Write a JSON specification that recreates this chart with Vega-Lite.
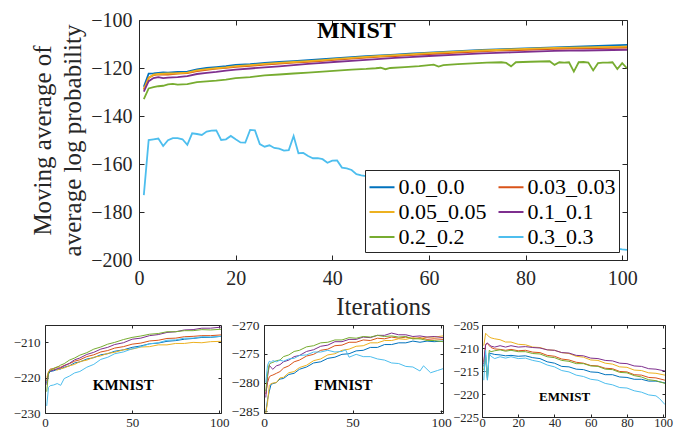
{
"$schema":"https://vega.github.io/schema/vega-lite/v6.json",
"background":"white",
"padding":{"left":11,"top":9,"right":0,"bottom":0},
"config":{"font":"Liberation Serif","view":{"stroke":"#262626","strokeWidth":1},
"axis":{"grid":false,"domain":false,"tickColor":"#262626","labelColor":"#262626","titleColor":"#262626","labelFont":"Liberation Serif","titleFont":"Liberation Serif","titleFontWeight":"normal","tickWidth":1,"labelOverlap":false,"labelFlush":false},
"text":{"font":"Liberation Serif","fontWeight":"bold","color":"black","align":"center","baseline":"middle"}},
"datasets":{
"M":[
{"s":"0.0_0.0","x":1,"y":-127.8},{"s":"0.0_0.0","x":2,"y":-122.3},{"s":"0.0_0.0","x":3,"y":-122.2},{"s":"0.0_0.0","x":4,"y":-122.0},{"s":"0.0_0.0","x":5,"y":-121.8},{"s":"0.0_0.0","x":6,"y":-121.9},{"s":"0.0_0.0","x":8,"y":-121.6},{"s":"0.0_0.0","x":10,"y":-121.5},{"s":"0.0_0.0","x":12,"y":-120.6},{"s":"0.0_0.0","x":14,"y":-120.0},{"s":"0.0_0.0","x":16,"y":-119.6},{"s":"0.0_0.0","x":18,"y":-119.2},{"s":"0.0_0.0","x":20,"y":-118.7},{"s":"0.0_0.0","x":23,"y":-118.4},{"s":"0.0_0.0","x":26,"y":-117.9},{"s":"0.0_0.0","x":29,"y":-117.5},{"s":"0.0_0.0","x":32,"y":-117.1},{"s":"0.0_0.0","x":35,"y":-116.7},{"s":"0.0_0.0","x":38,"y":-116.3},{"s":"0.0_0.0","x":41,"y":-115.9},{"s":"0.0_0.0","x":44,"y":-115.5},{"s":"0.0_0.0","x":47,"y":-115.1},{"s":"0.0_0.0","x":50,"y":-114.7},{"s":"0.0_0.0","x":53,"y":-114.4},{"s":"0.0_0.0","x":56,"y":-114.0},{"s":"0.0_0.0","x":59,"y":-113.7},{"s":"0.0_0.0","x":62,"y":-113.4},{"s":"0.0_0.0","x":65,"y":-113.1},{"s":"0.0_0.0","x":68,"y":-112.8},{"s":"0.0_0.0","x":71,"y":-112.5},{"s":"0.0_0.0","x":74,"y":-112.3},{"s":"0.0_0.0","x":77,"y":-112.0},{"s":"0.0_0.0","x":80,"y":-111.8},{"s":"0.0_0.0","x":83,"y":-111.6},{"s":"0.0_0.0","x":86,"y":-111.4},{"s":"0.0_0.0","x":89,"y":-111.2},{"s":"0.0_0.0","x":92,"y":-111.0},{"s":"0.0_0.0","x":95,"y":-110.8},{"s":"0.0_0.0","x":98,"y":-110.6},{"s":"0.0_0.0","x":101,"y":-110.4},
{"s":"0.03_0.03","x":1,"y":-128.9},{"s":"0.03_0.03","x":2,"y":-124.0},{"s":"0.03_0.03","x":3,"y":-123.0},{"s":"0.03_0.03","x":4,"y":-122.7},{"s":"0.03_0.03","x":5,"y":-122.6},{"s":"0.03_0.03","x":6,"y":-122.7},{"s":"0.03_0.03","x":8,"y":-122.3},{"s":"0.03_0.03","x":10,"y":-122.1},{"s":"0.03_0.03","x":12,"y":-121.3},{"s":"0.03_0.03","x":14,"y":-120.8},{"s":"0.03_0.03","x":16,"y":-120.3},{"s":"0.03_0.03","x":18,"y":-119.9},{"s":"0.03_0.03","x":20,"y":-119.5},{"s":"0.03_0.03","x":23,"y":-119.1},{"s":"0.03_0.03","x":26,"y":-118.6},{"s":"0.03_0.03","x":29,"y":-118.2},{"s":"0.03_0.03","x":32,"y":-117.8},{"s":"0.03_0.03","x":35,"y":-117.4},{"s":"0.03_0.03","x":38,"y":-117.0},{"s":"0.03_0.03","x":41,"y":-116.5},{"s":"0.03_0.03","x":44,"y":-116.1},{"s":"0.03_0.03","x":47,"y":-115.7},{"s":"0.03_0.03","x":50,"y":-115.3},{"s":"0.03_0.03","x":53,"y":-115.0},{"s":"0.03_0.03","x":56,"y":-114.6},{"s":"0.03_0.03","x":59,"y":-114.3},{"s":"0.03_0.03","x":62,"y":-114.0},{"s":"0.03_0.03","x":65,"y":-113.7},{"s":"0.03_0.03","x":68,"y":-113.4},{"s":"0.03_0.03","x":71,"y":-113.1},{"s":"0.03_0.03","x":74,"y":-112.8},{"s":"0.03_0.03","x":77,"y":-112.6},{"s":"0.03_0.03","x":80,"y":-112.4},{"s":"0.03_0.03","x":83,"y":-112.2},{"s":"0.03_0.03","x":86,"y":-112.0},{"s":"0.03_0.03","x":89,"y":-111.9},{"s":"0.03_0.03","x":92,"y":-111.8},{"s":"0.03_0.03","x":95,"y":-111.7},{"s":"0.03_0.03","x":98,"y":-111.6},{"s":"0.03_0.03","x":101,"y":-111.5},
{"s":"0.05_0.05","x":1,"y":-129.0},{"s":"0.05_0.05","x":2,"y":-124.2},{"s":"0.05_0.05","x":3,"y":-122.8},{"s":"0.05_0.05","x":4,"y":-122.5},{"s":"0.05_0.05","x":5,"y":-122.4},{"s":"0.05_0.05","x":6,"y":-122.3},{"s":"0.05_0.05","x":8,"y":-122.2},{"s":"0.05_0.05","x":10,"y":-121.9},{"s":"0.05_0.05","x":12,"y":-121.0},{"s":"0.05_0.05","x":14,"y":-120.5},{"s":"0.05_0.05","x":16,"y":-120.1},{"s":"0.05_0.05","x":18,"y":-119.7},{"s":"0.05_0.05","x":20,"y":-119.2},{"s":"0.05_0.05","x":23,"y":-118.8},{"s":"0.05_0.05","x":26,"y":-118.3},{"s":"0.05_0.05","x":29,"y":-117.9},{"s":"0.05_0.05","x":32,"y":-117.5},{"s":"0.05_0.05","x":35,"y":-117.1},{"s":"0.05_0.05","x":38,"y":-116.7},{"s":"0.05_0.05","x":41,"y":-116.2},{"s":"0.05_0.05","x":44,"y":-115.8},{"s":"0.05_0.05","x":47,"y":-115.4},{"s":"0.05_0.05","x":50,"y":-115.0},{"s":"0.05_0.05","x":53,"y":-114.6},{"s":"0.05_0.05","x":56,"y":-114.3},{"s":"0.05_0.05","x":59,"y":-113.9},{"s":"0.05_0.05","x":62,"y":-113.6},{"s":"0.05_0.05","x":65,"y":-113.3},{"s":"0.05_0.05","x":68,"y":-113.0},{"s":"0.05_0.05","x":71,"y":-112.7},{"s":"0.05_0.05","x":74,"y":-112.5},{"s":"0.05_0.05","x":77,"y":-112.2},{"s":"0.05_0.05","x":80,"y":-112.0},{"s":"0.05_0.05","x":83,"y":-111.8},{"s":"0.05_0.05","x":86,"y":-111.6},{"s":"0.05_0.05","x":89,"y":-111.5},{"s":"0.05_0.05","x":92,"y":-111.4},{"s":"0.05_0.05","x":95,"y":-111.3},{"s":"0.05_0.05","x":98,"y":-111.2},{"s":"0.05_0.05","x":101,"y":-111.1},
{"s":"0.1_0.1","x":1,"y":-129.8},{"s":"0.1_0.1","x":2,"y":-125.5},{"s":"0.1_0.1","x":3,"y":-124.2},{"s":"0.1_0.1","x":4,"y":-123.8},{"s":"0.1_0.1","x":5,"y":-124.2},{"s":"0.1_0.1","x":6,"y":-124.0},{"s":"0.1_0.1","x":8,"y":-123.8},{"s":"0.1_0.1","x":10,"y":-123.4},{"s":"0.1_0.1","x":12,"y":-122.5},{"s":"0.1_0.1","x":14,"y":-122.0},{"s":"0.1_0.1","x":16,"y":-121.6},{"s":"0.1_0.1","x":18,"y":-121.1},{"s":"0.1_0.1","x":20,"y":-120.7},{"s":"0.1_0.1","x":23,"y":-120.2},{"s":"0.1_0.1","x":26,"y":-119.7},{"s":"0.1_0.1","x":29,"y":-119.3},{"s":"0.1_0.1","x":32,"y":-118.8},{"s":"0.1_0.1","x":35,"y":-118.3},{"s":"0.1_0.1","x":38,"y":-117.9},{"s":"0.1_0.1","x":41,"y":-117.4},{"s":"0.1_0.1","x":44,"y":-117.0},{"s":"0.1_0.1","x":47,"y":-116.6},{"s":"0.1_0.1","x":50,"y":-116.2},{"s":"0.1_0.1","x":53,"y":-115.8},{"s":"0.1_0.1","x":56,"y":-115.5},{"s":"0.1_0.1","x":59,"y":-115.1},{"s":"0.1_0.1","x":62,"y":-114.8},{"s":"0.1_0.1","x":65,"y":-114.5},{"s":"0.1_0.1","x":68,"y":-114.2},{"s":"0.1_0.1","x":71,"y":-113.9},{"s":"0.1_0.1","x":74,"y":-113.7},{"s":"0.1_0.1","x":77,"y":-113.5},{"s":"0.1_0.1","x":80,"y":-113.3},{"s":"0.1_0.1","x":83,"y":-113.1},{"s":"0.1_0.1","x":86,"y":-112.9},{"s":"0.1_0.1","x":89,"y":-112.8},{"s":"0.1_0.1","x":92,"y":-112.7},{"s":"0.1_0.1","x":95,"y":-112.6},{"s":"0.1_0.1","x":98,"y":-112.5},{"s":"0.1_0.1","x":101,"y":-112.4},
{"s":"0.2_0.2","x":1,"y":-133.0},{"s":"0.2_0.2","x":2,"y":-128.5},{"s":"0.2_0.2","x":3,"y":-128.0},{"s":"0.2_0.2","x":4,"y":-127.6},{"s":"0.2_0.2","x":5,"y":-127.4},{"s":"0.2_0.2","x":6,"y":-126.8},{"s":"0.2_0.2","x":7,"y":-126.6},{"s":"0.2_0.2","x":8,"y":-126.9},{"s":"0.2_0.2","x":9,"y":-126.8},{"s":"0.2_0.2","x":10,"y":-126.7},{"s":"0.2_0.2","x":12,"y":-125.9},{"s":"0.2_0.2","x":14,"y":-125.6},{"s":"0.2_0.2","x":16,"y":-125.3},{"s":"0.2_0.2","x":18,"y":-124.8},{"s":"0.2_0.2","x":20,"y":-124.2},{"s":"0.2_0.2","x":23,"y":-123.8},{"s":"0.2_0.2","x":26,"y":-123.1},{"s":"0.2_0.2","x":29,"y":-122.7},{"s":"0.2_0.2","x":32,"y":-122.3},{"s":"0.2_0.2","x":35,"y":-121.9},{"s":"0.2_0.2","x":38,"y":-121.5},{"s":"0.2_0.2","x":41,"y":-121.1},{"s":"0.2_0.2","x":44,"y":-120.7},{"s":"0.2_0.2","x":47,"y":-120.4},{"s":"0.2_0.2","x":49,"y":-120.1},{"s":"0.2_0.2","x":50,"y":-119.9},{"s":"0.2_0.2","x":51,"y":-120.5},{"s":"0.2_0.2","x":52,"y":-120.0},{"s":"0.2_0.2","x":55,"y":-119.6},{"s":"0.2_0.2","x":58,"y":-119.2},{"s":"0.2_0.2","x":61,"y":-118.6},{"s":"0.2_0.2","x":62,"y":-119.4},{"s":"0.2_0.2","x":63,"y":-118.8},{"s":"0.2_0.2","x":66,"y":-118.4},{"s":"0.2_0.2","x":69,"y":-118.1},{"s":"0.2_0.2","x":72,"y":-117.8},{"s":"0.2_0.2","x":75,"y":-117.6},{"s":"0.2_0.2","x":76,"y":-117.9},{"s":"0.2_0.2","x":77,"y":-119.3},{"s":"0.2_0.2","x":78,"y":-117.6},{"s":"0.2_0.2","x":81,"y":-117.4},{"s":"0.2_0.2","x":85,"y":-117.2},{"s":"0.2_0.2","x":86,"y":-118.7},{"s":"0.2_0.2","x":87,"y":-117.6},{"s":"0.2_0.2","x":88,"y":-117.8},{"s":"0.2_0.2","x":89,"y":-117.6},{"s":"0.2_0.2","x":90,"y":-121.5},{"s":"0.2_0.2","x":91,"y":-117.6},{"s":"0.2_0.2","x":92,"y":-117.5},{"s":"0.2_0.2","x":93,"y":-117.7},{"s":"0.2_0.2","x":94,"y":-121.0},{"s":"0.2_0.2","x":95,"y":-118.0},{"s":"0.2_0.2","x":96,"y":-117.8},{"s":"0.2_0.2","x":97,"y":-117.8},{"s":"0.2_0.2","x":98,"y":-117.6},{"s":"0.2_0.2","x":99,"y":-120.4},{"s":"0.2_0.2","x":100,"y":-118.0},{"s":"0.2_0.2","x":101,"y":-120.1},
{"s":"0.3_0.3","x":1,"y":-173.0},{"s":"0.3_0.3","x":2,"y":-150.0},{"s":"0.3_0.3","x":3,"y":-149.7},{"s":"0.3_0.3","x":4,"y":-149.4},{"s":"0.3_0.3","x":5,"y":-152.5},{"s":"0.3_0.3","x":6,"y":-150.1},{"s":"0.3_0.3","x":7,"y":-149.2},{"s":"0.3_0.3","x":8,"y":-149.2},{"s":"0.3_0.3","x":9,"y":-149.7},{"s":"0.3_0.3","x":10,"y":-152.0},{"s":"0.3_0.3","x":11,"y":-147.2},{"s":"0.3_0.3","x":12,"y":-147.5},{"s":"0.3_0.3","x":13,"y":-147.9},{"s":"0.3_0.3","x":14,"y":-146.5},{"s":"0.3_0.3","x":15,"y":-146.1},{"s":"0.3_0.3","x":16,"y":-146.0},{"s":"0.3_0.3","x":17,"y":-150.0},{"s":"0.3_0.3","x":18,"y":-149.7},{"s":"0.3_0.3","x":19,"y":-148.3},{"s":"0.3_0.3","x":20,"y":-149.7},{"s":"0.3_0.3","x":21,"y":-151.0},{"s":"0.3_0.3","x":22,"y":-151.1},{"s":"0.3_0.3","x":23,"y":-145.8},{"s":"0.3_0.3","x":24,"y":-146.0},{"s":"0.3_0.3","x":25,"y":-151.7},{"s":"0.3_0.3","x":26,"y":-152.8},{"s":"0.3_0.3","x":27,"y":-152.2},{"s":"0.3_0.3","x":28,"y":-153.3},{"s":"0.3_0.3","x":29,"y":-153.6},{"s":"0.3_0.3","x":30,"y":-154.4},{"s":"0.3_0.3","x":31,"y":-154.2},{"s":"0.3_0.3","x":32,"y":-148.3},{"s":"0.3_0.3","x":33,"y":-155.5},{"s":"0.3_0.3","x":34,"y":-155.4},{"s":"0.3_0.3","x":35,"y":-156.7},{"s":"0.3_0.3","x":36,"y":-157.6},{"s":"0.3_0.3","x":37,"y":-157.6},{"s":"0.3_0.3","x":38,"y":-158.0},{"s":"0.3_0.3","x":39,"y":-159.5},{"s":"0.3_0.3","x":40,"y":-158.6},{"s":"0.3_0.3","x":41,"y":-158.5},{"s":"0.3_0.3","x":42,"y":-161.5},{"s":"0.3_0.3","x":43,"y":-161.8},{"s":"0.3_0.3","x":44,"y":-162.5},{"s":"0.3_0.3","x":45,"y":-164.2},{"s":"0.3_0.3","x":46,"y":-164.7},{"s":"0.3_0.3","x":47,"y":-165.1},{"s":"0.3_0.3","x":50,"y":-166.8},{"s":"0.3_0.3","x":55,"y":-169.6},{"s":"0.3_0.3","x":60,"y":-172.8},{"s":"0.3_0.3","x":65,"y":-175.6},{"s":"0.3_0.3","x":70,"y":-178.7},{"s":"0.3_0.3","x":75,"y":-181.5},{"s":"0.3_0.3","x":80,"y":-184.4},{"s":"0.3_0.3","x":85,"y":-187.3},{"s":"0.3_0.3","x":90,"y":-190.2},{"s":"0.3_0.3","x":95,"y":-193.0},{"s":"0.3_0.3","x":99,"y":-195.3},{"s":"0.3_0.3","x":100,"y":-195.6},{"s":"0.3_0.3","x":101,"y":-195.8}
],
"K":[
{"s":"0.0_0.0","x":1,"y":-221.5},{"s":"0.0_0.0","x":2,"y":-219.0},{"s":"0.0_0.0","x":3,"y":-218.3},{"s":"0.0_0.0","x":5,"y":-218.1},{"s":"0.0_0.0","x":7,"y":-217.7},{"s":"0.0_0.0","x":9,"y":-217.6},{"s":"0.0_0.0","x":11,"y":-217.1},{"s":"0.0_0.0","x":14,"y":-216.7},{"s":"0.0_0.0","x":17,"y":-215.9},{"s":"0.0_0.0","x":20,"y":-215.6},{"s":"0.0_0.0","x":24,"y":-214.8},{"s":"0.0_0.0","x":28,"y":-214.4},{"s":"0.0_0.0","x":32,"y":-213.6},{"s":"0.0_0.0","x":36,"y":-213.3},{"s":"0.0_0.0","x":40,"y":-212.6},{"s":"0.0_0.0","x":45,"y":-212.2},{"s":"0.0_0.0","x":50,"y":-211.5},{"s":"0.0_0.0","x":55,"y":-211.1},{"s":"0.0_0.0","x":60,"y":-210.5},{"s":"0.0_0.0","x":65,"y":-210.3},{"s":"0.0_0.0","x":70,"y":-209.8},{"s":"0.0_0.0","x":75,"y":-209.6},{"s":"0.0_0.0","x":80,"y":-209.2},{"s":"0.0_0.0","x":85,"y":-209.0},{"s":"0.0_0.0","x":90,"y":-208.7},{"s":"0.0_0.0","x":95,"y":-208.7},{"s":"0.0_0.0","x":101,"y":-208.4},
{"s":"0.03_0.03","x":1,"y":-221.0},{"s":"0.03_0.03","x":2,"y":-218.5},{"s":"0.03_0.03","x":3,"y":-217.6},{"s":"0.03_0.03","x":5,"y":-217.5},{"s":"0.03_0.03","x":7,"y":-217.0},{"s":"0.03_0.03","x":9,"y":-217.1},{"s":"0.03_0.03","x":11,"y":-216.6},{"s":"0.03_0.03","x":14,"y":-216.1},{"s":"0.03_0.03","x":17,"y":-215.4},{"s":"0.03_0.03","x":20,"y":-215.0},{"s":"0.03_0.03","x":24,"y":-214.1},{"s":"0.03_0.03","x":28,"y":-213.6},{"s":"0.03_0.03","x":32,"y":-212.8},{"s":"0.03_0.03","x":36,"y":-212.4},{"s":"0.03_0.03","x":40,"y":-211.7},{"s":"0.03_0.03","x":45,"y":-211.3},{"s":"0.03_0.03","x":50,"y":-210.6},{"s":"0.03_0.03","x":55,"y":-210.3},{"s":"0.03_0.03","x":60,"y":-209.7},{"s":"0.03_0.03","x":65,"y":-209.5},{"s":"0.03_0.03","x":70,"y":-209.0},{"s":"0.03_0.03","x":75,"y":-208.9},{"s":"0.03_0.03","x":80,"y":-208.5},{"s":"0.03_0.03","x":85,"y":-208.4},{"s":"0.03_0.03","x":90,"y":-208.2},{"s":"0.03_0.03","x":95,"y":-208.2},{"s":"0.03_0.03","x":101,"y":-208.0},
{"s":"0.05_0.05","x":1,"y":-220.0},{"s":"0.05_0.05","x":2,"y":-218.4},{"s":"0.05_0.05","x":3,"y":-218.0},{"s":"0.05_0.05","x":5,"y":-217.7},{"s":"0.05_0.05","x":7,"y":-217.9},{"s":"0.05_0.05","x":9,"y":-217.5},{"s":"0.05_0.05","x":11,"y":-217.3},{"s":"0.05_0.05","x":14,"y":-216.7},{"s":"0.05_0.05","x":17,"y":-216.3},{"s":"0.05_0.05","x":20,"y":-215.5},{"s":"0.05_0.05","x":24,"y":-215.1},{"s":"0.05_0.05","x":28,"y":-214.3},{"s":"0.05_0.05","x":32,"y":-213.9},{"s":"0.05_0.05","x":36,"y":-213.2},{"s":"0.05_0.05","x":40,"y":-212.9},{"s":"0.05_0.05","x":45,"y":-212.2},{"s":"0.05_0.05","x":50,"y":-212.0},{"s":"0.05_0.05","x":55,"y":-211.4},{"s":"0.05_0.05","x":60,"y":-211.3},{"s":"0.05_0.05","x":65,"y":-210.8},{"s":"0.05_0.05","x":70,"y":-210.8},{"s":"0.05_0.05","x":75,"y":-210.4},{"s":"0.05_0.05","x":80,"y":-210.4},{"s":"0.05_0.05","x":85,"y":-210.1},{"s":"0.05_0.05","x":90,"y":-210.2},{"s":"0.05_0.05","x":95,"y":-209.9},{"s":"0.05_0.05","x":101,"y":-209.8},
{"s":"0.1_0.1","x":1,"y":-222.0},{"s":"0.1_0.1","x":2,"y":-218.8},{"s":"0.1_0.1","x":3,"y":-218.2},{"s":"0.1_0.1","x":5,"y":-217.9},{"s":"0.1_0.1","x":7,"y":-217.5},{"s":"0.1_0.1","x":9,"y":-217.3},{"s":"0.1_0.1","x":11,"y":-216.7},{"s":"0.1_0.1","x":14,"y":-216.0},{"s":"0.1_0.1","x":17,"y":-215.0},{"s":"0.1_0.1","x":20,"y":-214.5},{"s":"0.1_0.1","x":24,"y":-213.5},{"s":"0.1_0.1","x":28,"y":-212.9},{"s":"0.1_0.1","x":32,"y":-212.0},{"s":"0.1_0.1","x":36,"y":-211.5},{"s":"0.1_0.1","x":40,"y":-210.7},{"s":"0.1_0.1","x":45,"y":-210.2},{"s":"0.1_0.1","x":50,"y":-209.2},{"s":"0.1_0.1","x":55,"y":-208.9},{"s":"0.1_0.1","x":60,"y":-208.2},{"s":"0.1_0.1","x":65,"y":-207.9},{"s":"0.1_0.1","x":70,"y":-207.3},{"s":"0.1_0.1","x":75,"y":-207.1},{"s":"0.1_0.1","x":80,"y":-206.6},{"s":"0.1_0.1","x":85,"y":-206.5},{"s":"0.1_0.1","x":90,"y":-206.1},{"s":"0.1_0.1","x":95,"y":-206.1},{"s":"0.1_0.1","x":101,"y":-205.8},
{"s":"0.2_0.2","x":1,"y":-224.0},{"s":"0.2_0.2","x":2,"y":-218.6},{"s":"0.2_0.2","x":3,"y":-218.0},{"s":"0.2_0.2","x":5,"y":-217.4},{"s":"0.2_0.2","x":7,"y":-217.1},{"s":"0.2_0.2","x":9,"y":-216.5},{"s":"0.2_0.2","x":11,"y":-216.1},{"s":"0.2_0.2","x":14,"y":-215.1},{"s":"0.2_0.2","x":17,"y":-214.5},{"s":"0.2_0.2","x":20,"y":-213.7},{"s":"0.2_0.2","x":24,"y":-213.0},{"s":"0.2_0.2","x":28,"y":-212.0},{"s":"0.2_0.2","x":32,"y":-211.4},{"s":"0.2_0.2","x":36,"y":-210.6},{"s":"0.2_0.2","x":40,"y":-210.1},{"s":"0.2_0.2","x":45,"y":-209.3},{"s":"0.2_0.2","x":50,"y":-208.7},{"s":"0.2_0.2","x":55,"y":-208.3},{"s":"0.2_0.2","x":60,"y":-207.8},{"s":"0.2_0.2","x":65,"y":-207.6},{"s":"0.2_0.2","x":70,"y":-207.1},{"s":"0.2_0.2","x":75,"y":-207.1},{"s":"0.2_0.2","x":80,"y":-206.8},{"s":"0.2_0.2","x":85,"y":-206.8},{"s":"0.2_0.2","x":90,"y":-206.5},{"s":"0.2_0.2","x":95,"y":-206.6},{"s":"0.2_0.2","x":101,"y":-206.4},
{"s":"0.3_0.3","x":1,"y":-228.0},{"s":"0.3_0.3","x":2,"y":-222.8},{"s":"0.3_0.3","x":3,"y":-222.3},{"s":"0.3_0.3","x":5,"y":-222.1},{"s":"0.3_0.3","x":7,"y":-221.7},{"s":"0.3_0.3","x":9,"y":-222.2},{"s":"0.3_0.3","x":11,"y":-220.3},{"s":"0.3_0.3","x":14,"y":-219.6},{"s":"0.3_0.3","x":17,"y":-218.7},{"s":"0.3_0.3","x":20,"y":-218.3},{"s":"0.3_0.3","x":24,"y":-217.1},{"s":"0.3_0.3","x":28,"y":-216.3},{"s":"0.3_0.3","x":32,"y":-214.9},{"s":"0.3_0.3","x":36,"y":-214.3},{"s":"0.3_0.3","x":40,"y":-213.3},{"s":"0.3_0.3","x":45,"y":-212.8},{"s":"0.3_0.3","x":50,"y":-211.9},{"s":"0.3_0.3","x":55,"y":-211.3},{"s":"0.3_0.3","x":60,"y":-210.5},{"s":"0.3_0.3","x":65,"y":-210.2},{"s":"0.3_0.3","x":70,"y":-209.5},{"s":"0.3_0.3","x":75,"y":-209.4},{"s":"0.3_0.3","x":80,"y":-208.9},{"s":"0.3_0.3","x":85,"y":-208.9},{"s":"0.3_0.3","x":90,"y":-208.5},{"s":"0.3_0.3","x":95,"y":-208.6},{"s":"0.3_0.3","x":101,"y":-208.4}
],
"F":[
{"s":"0.0_0.0","x":1,"y":-285.2},{"s":"0.0_0.0","x":2,"y":-283.0},{"s":"0.0_0.0","x":3,"y":-281.5},{"s":"0.0_0.0","x":4,"y":-280.3},{"s":"0.0_0.0","x":5,"y":-280.2},{"s":"0.0_0.0","x":7,"y":-280.0},{"s":"0.0_0.0","x":9,"y":-279.4},{"s":"0.0_0.0","x":11,"y":-279.3},{"s":"0.0_0.0","x":14,"y":-278.6},{"s":"0.0_0.0","x":17,"y":-278.4},{"s":"0.0_0.0","x":20,"y":-277.7},{"s":"0.0_0.0","x":24,"y":-277.3},{"s":"0.0_0.0","x":28,"y":-276.6},{"s":"0.0_0.0","x":32,"y":-276.4},{"s":"0.0_0.0","x":36,"y":-275.8},{"s":"0.0_0.0","x":40,"y":-275.6},{"s":"0.0_0.0","x":44,"y":-275.1},{"s":"0.0_0.0","x":48,"y":-275.0},{"s":"0.0_0.0","x":52,"y":-274.5},{"s":"0.0_0.0","x":56,"y":-274.4},{"s":"0.0_0.0","x":60,"y":-273.9},{"s":"0.0_0.0","x":64,"y":-273.9},{"s":"0.0_0.0","x":68,"y":-273.4},{"s":"0.0_0.0","x":72,"y":-273.4},{"s":"0.0_0.0","x":76,"y":-273.1},{"s":"0.0_0.0","x":80,"y":-273.1},{"s":"0.0_0.0","x":84,"y":-272.8},{"s":"0.0_0.0","x":88,"y":-273.0},{"s":"0.0_0.0","x":92,"y":-272.8},{"s":"0.0_0.0","x":96,"y":-272.9},{"s":"0.0_0.0","x":101,"y":-272.8},
{"s":"0.03_0.03","x":1,"y":-282.0},{"s":"0.03_0.03","x":2,"y":-280.0},{"s":"0.03_0.03","x":3,"y":-279.0},{"s":"0.03_0.03","x":4,"y":-278.8},{"s":"0.03_0.03","x":5,"y":-278.7},{"s":"0.03_0.03","x":7,"y":-278.4},{"s":"0.03_0.03","x":9,"y":-278.1},{"s":"0.03_0.03","x":11,"y":-277.5},{"s":"0.03_0.03","x":14,"y":-277.1},{"s":"0.03_0.03","x":17,"y":-276.4},{"s":"0.03_0.03","x":20,"y":-276.1},{"s":"0.03_0.03","x":24,"y":-275.4},{"s":"0.03_0.03","x":28,"y":-275.1},{"s":"0.03_0.03","x":32,"y":-274.4},{"s":"0.03_0.03","x":36,"y":-274.2},{"s":"0.03_0.03","x":40,"y":-273.6},{"s":"0.03_0.03","x":44,"y":-273.5},{"s":"0.03_0.03","x":48,"y":-273.0},{"s":"0.03_0.03","x":52,"y":-273.0},{"s":"0.03_0.03","x":56,"y":-272.6},{"s":"0.03_0.03","x":60,"y":-272.7},{"s":"0.03_0.03","x":64,"y":-272.3},{"s":"0.03_0.03","x":68,"y":-272.4},{"s":"0.03_0.03","x":72,"y":-272.1},{"s":"0.03_0.03","x":76,"y":-272.3},{"s":"0.03_0.03","x":80,"y":-272.1},{"s":"0.03_0.03","x":84,"y":-272.4},{"s":"0.03_0.03","x":88,"y":-272.2},{"s":"0.03_0.03","x":92,"y":-272.5},{"s":"0.03_0.03","x":96,"y":-272.4},{"s":"0.03_0.03","x":101,"y":-272.5},
{"s":"0.05_0.05","x":1,"y":-285.3},{"s":"0.05_0.05","x":2,"y":-283.5},{"s":"0.05_0.05","x":3,"y":-280.5},{"s":"0.05_0.05","x":4,"y":-280.2},{"s":"0.05_0.05","x":5,"y":-280.1},{"s":"0.05_0.05","x":7,"y":-280.0},{"s":"0.05_0.05","x":9,"y":-279.2},{"s":"0.05_0.05","x":11,"y":-279.1},{"s":"0.05_0.05","x":14,"y":-278.3},{"s":"0.05_0.05","x":17,"y":-278.1},{"s":"0.05_0.05","x":20,"y":-277.4},{"s":"0.05_0.05","x":24,"y":-277.0},{"s":"0.05_0.05","x":28,"y":-276.2},{"s":"0.05_0.05","x":32,"y":-275.9},{"s":"0.05_0.05","x":36,"y":-275.2},{"s":"0.05_0.05","x":40,"y":-275.0},{"s":"0.05_0.05","x":44,"y":-274.4},{"s":"0.05_0.05","x":48,"y":-274.2},{"s":"0.05_0.05","x":52,"y":-273.7},{"s":"0.05_0.05","x":56,"y":-273.6},{"s":"0.05_0.05","x":60,"y":-273.1},{"s":"0.05_0.05","x":64,"y":-273.1},{"s":"0.05_0.05","x":68,"y":-272.7},{"s":"0.05_0.05","x":72,"y":-272.7},{"s":"0.05_0.05","x":76,"y":-272.4},{"s":"0.05_0.05","x":80,"y":-272.5},{"s":"0.05_0.05","x":84,"y":-272.2},{"s":"0.05_0.05","x":88,"y":-272.4},{"s":"0.05_0.05","x":92,"y":-272.1},{"s":"0.05_0.05","x":96,"y":-272.1},{"s":"0.05_0.05","x":101,"y":-271.9},
{"s":"0.1_0.1","x":1,"y":-282.6},{"s":"0.1_0.1","x":2,"y":-279.0},{"s":"0.1_0.1","x":3,"y":-277.0},{"s":"0.1_0.1","x":4,"y":-277.4},{"s":"0.1_0.1","x":5,"y":-277.7},{"s":"0.1_0.1","x":7,"y":-277.1},{"s":"0.1_0.1","x":9,"y":-276.9},{"s":"0.1_0.1","x":11,"y":-276.4},{"s":"0.1_0.1","x":14,"y":-276.1},{"s":"0.1_0.1","x":17,"y":-275.5},{"s":"0.1_0.1","x":20,"y":-275.3},{"s":"0.1_0.1","x":24,"y":-274.6},{"s":"0.1_0.1","x":28,"y":-274.3},{"s":"0.1_0.1","x":32,"y":-273.7},{"s":"0.1_0.1","x":36,"y":-273.5},{"s":"0.1_0.1","x":40,"y":-272.9},{"s":"0.1_0.1","x":44,"y":-272.9},{"s":"0.1_0.1","x":48,"y":-272.5},{"s":"0.1_0.1","x":52,"y":-272.5},{"s":"0.1_0.1","x":56,"y":-272.1},{"s":"0.1_0.1","x":60,"y":-272.2},{"s":"0.1_0.1","x":64,"y":-271.8},{"s":"0.1_0.1","x":68,"y":-271.8},{"s":"0.1_0.1","x":72,"y":-271.4},{"s":"0.1_0.1","x":76,"y":-271.7},{"s":"0.1_0.1","x":80,"y":-271.7},{"s":"0.1_0.1","x":84,"y":-272.0},{"s":"0.1_0.1","x":88,"y":-271.9},{"s":"0.1_0.1","x":92,"y":-272.1},{"s":"0.1_0.1","x":96,"y":-272.0},{"s":"0.1_0.1","x":101,"y":-272.2},
{"s":"0.2_0.2","x":1,"y":-281.5},{"s":"0.2_0.2","x":2,"y":-278.5},{"s":"0.2_0.2","x":3,"y":-276.8},{"s":"0.2_0.2","x":4,"y":-276.6},{"s":"0.2_0.2","x":5,"y":-276.5},{"s":"0.2_0.2","x":7,"y":-276.2},{"s":"0.2_0.2","x":9,"y":-276.1},{"s":"0.2_0.2","x":11,"y":-275.5},{"s":"0.2_0.2","x":14,"y":-275.2},{"s":"0.2_0.2","x":17,"y":-274.6},{"s":"0.2_0.2","x":20,"y":-274.4},{"s":"0.2_0.2","x":24,"y":-273.8},{"s":"0.2_0.2","x":28,"y":-273.6},{"s":"0.2_0.2","x":32,"y":-273.1},{"s":"0.2_0.2","x":36,"y":-273.0},{"s":"0.2_0.2","x":40,"y":-272.6},{"s":"0.2_0.2","x":44,"y":-272.6},{"s":"0.2_0.2","x":48,"y":-272.2},{"s":"0.2_0.2","x":52,"y":-272.3},{"s":"0.2_0.2","x":56,"y":-272.0},{"s":"0.2_0.2","x":60,"y":-272.1},{"s":"0.2_0.2","x":64,"y":-271.8},{"s":"0.2_0.2","x":68,"y":-272.0},{"s":"0.2_0.2","x":72,"y":-271.9},{"s":"0.2_0.2","x":76,"y":-272.1},{"s":"0.2_0.2","x":80,"y":-272.0},{"s":"0.2_0.2","x":84,"y":-272.4},{"s":"0.2_0.2","x":88,"y":-272.4},{"s":"0.2_0.2","x":92,"y":-272.7},{"s":"0.2_0.2","x":96,"y":-272.7},{"s":"0.2_0.2","x":101,"y":-272.9},
{"s":"0.3_0.3","x":1,"y":-280.0},{"s":"0.3_0.3","x":2,"y":-277.0},{"s":"0.3_0.3","x":3,"y":-276.3},{"s":"0.3_0.3","x":4,"y":-276.5},{"s":"0.3_0.3","x":5,"y":-276.2},{"s":"0.3_0.3","x":7,"y":-276.4},{"s":"0.3_0.3","x":9,"y":-276.1},{"s":"0.3_0.3","x":11,"y":-276.3},{"s":"0.3_0.3","x":14,"y":-275.9},{"s":"0.3_0.3","x":17,"y":-275.8},{"s":"0.3_0.3","x":20,"y":-275.3},{"s":"0.3_0.3","x":24,"y":-275.2},{"s":"0.3_0.3","x":28,"y":-274.7},{"s":"0.3_0.3","x":32,"y":-274.7},{"s":"0.3_0.3","x":36,"y":-274.4},{"s":"0.3_0.3","x":40,"y":-274.7},{"s":"0.3_0.3","x":44,"y":-274.6},{"s":"0.3_0.3","x":46,"y":-274.3},{"s":"0.3_0.3","x":48,"y":-275.6},{"s":"0.3_0.3","x":52,"y":-275.1},{"s":"0.3_0.3","x":56,"y":-275.5},{"s":"0.3_0.3","x":60,"y":-275.5},{"s":"0.3_0.3","x":64,"y":-275.9},{"s":"0.3_0.3","x":68,"y":-276.1},{"s":"0.3_0.3","x":72,"y":-276.6},{"s":"0.3_0.3","x":76,"y":-276.7},{"s":"0.3_0.3","x":80,"y":-277.2},{"s":"0.3_0.3","x":84,"y":-277.3},{"s":"0.3_0.3","x":88,"y":-278.0},{"s":"0.3_0.3","x":90,"y":-277.1},{"s":"0.3_0.3","x":94,"y":-278.3},{"s":"0.3_0.3","x":98,"y":-277.9},{"s":"0.3_0.3","x":101,"y":-277.6}
],
"E":[
{"s":"0.0_0.0","x":1,"y":-214.0},{"s":"0.0_0.0","x":2,"y":-211.5},{"s":"0.0_0.0","x":3,"y":-216.9},{"s":"0.0_0.0","x":4,"y":-211.1},{"s":"0.0_0.0","x":5,"y":-211.2},{"s":"0.0_0.0","x":7,"y":-211.4},{"s":"0.0_0.0","x":10,"y":-211.5},{"s":"0.0_0.0","x":13,"y":-211.7},{"s":"0.0_0.0","x":16,"y":-211.6},{"s":"0.0_0.0","x":20,"y":-211.8},{"s":"0.0_0.0","x":24,"y":-211.7},{"s":"0.0_0.0","x":28,"y":-212.1},{"s":"0.0_0.0","x":32,"y":-212.3},{"s":"0.0_0.0","x":36,"y":-213.0},{"s":"0.0_0.0","x":40,"y":-213.3},{"s":"0.0_0.0","x":44,"y":-214.0},{"s":"0.0_0.0","x":48,"y":-214.1},{"s":"0.0_0.0","x":52,"y":-214.6},{"s":"0.0_0.0","x":56,"y":-214.7},{"s":"0.0_0.0","x":60,"y":-215.2},{"s":"0.0_0.0","x":64,"y":-215.3},{"s":"0.0_0.0","x":68,"y":-215.8},{"s":"0.0_0.0","x":72,"y":-215.8},{"s":"0.0_0.0","x":76,"y":-216.3},{"s":"0.0_0.0","x":80,"y":-216.4},{"s":"0.0_0.0","x":84,"y":-216.8},{"s":"0.0_0.0","x":88,"y":-216.8},{"s":"0.0_0.0","x":92,"y":-217.2},{"s":"0.0_0.0","x":96,"y":-217.2},{"s":"0.0_0.0","x":101,"y":-217.6},
{"s":"0.03_0.03","x":1,"y":-213.0},{"s":"0.03_0.03","x":2,"y":-209.3},{"s":"0.03_0.03","x":3,"y":-209.0},{"s":"0.03_0.03","x":4,"y":-209.5},{"s":"0.03_0.03","x":5,"y":-209.9},{"s":"0.03_0.03","x":7,"y":-210.2},{"s":"0.03_0.03","x":10,"y":-210.3},{"s":"0.03_0.03","x":13,"y":-210.5},{"s":"0.03_0.03","x":16,"y":-210.3},{"s":"0.03_0.03","x":20,"y":-210.6},{"s":"0.03_0.03","x":24,"y":-210.5},{"s":"0.03_0.03","x":28,"y":-210.9},{"s":"0.03_0.03","x":32,"y":-211.0},{"s":"0.03_0.03","x":36,"y":-211.6},{"s":"0.03_0.03","x":40,"y":-211.8},{"s":"0.03_0.03","x":44,"y":-212.4},{"s":"0.03_0.03","x":48,"y":-212.6},{"s":"0.03_0.03","x":52,"y":-213.1},{"s":"0.03_0.03","x":56,"y":-213.3},{"s":"0.03_0.03","x":60,"y":-213.8},{"s":"0.03_0.03","x":64,"y":-213.9},{"s":"0.03_0.03","x":68,"y":-214.4},{"s":"0.03_0.03","x":72,"y":-214.5},{"s":"0.03_0.03","x":76,"y":-215.1},{"s":"0.03_0.03","x":80,"y":-215.2},{"s":"0.03_0.03","x":84,"y":-215.8},{"s":"0.03_0.03","x":88,"y":-215.9},{"s":"0.03_0.03","x":92,"y":-216.4},{"s":"0.03_0.03","x":96,"y":-216.5},{"s":"0.03_0.03","x":101,"y":-217.0},
{"s":"0.05_0.05","x":1,"y":-209.5},{"s":"0.05_0.05","x":2,"y":-206.8},{"s":"0.05_0.05","x":3,"y":-207.2},{"s":"0.05_0.05","x":4,"y":-207.6},{"s":"0.05_0.05","x":5,"y":-207.8},{"s":"0.05_0.05","x":7,"y":-208.0},{"s":"0.05_0.05","x":10,"y":-208.2},{"s":"0.05_0.05","x":13,"y":-208.7},{"s":"0.05_0.05","x":16,"y":-208.7},{"s":"0.05_0.05","x":20,"y":-209.2},{"s":"0.05_0.05","x":24,"y":-209.3},{"s":"0.05_0.05","x":28,"y":-209.8},{"s":"0.05_0.05","x":32,"y":-209.9},{"s":"0.05_0.05","x":36,"y":-210.4},{"s":"0.05_0.05","x":40,"y":-210.5},{"s":"0.05_0.05","x":44,"y":-211.0},{"s":"0.05_0.05","x":48,"y":-211.2},{"s":"0.05_0.05","x":52,"y":-211.8},{"s":"0.05_0.05","x":56,"y":-212.0},{"s":"0.05_0.05","x":60,"y":-212.6},{"s":"0.05_0.05","x":64,"y":-212.7},{"s":"0.05_0.05","x":68,"y":-213.3},{"s":"0.05_0.05","x":72,"y":-213.5},{"s":"0.05_0.05","x":76,"y":-214.1},{"s":"0.05_0.05","x":80,"y":-214.2},{"s":"0.05_0.05","x":84,"y":-214.8},{"s":"0.05_0.05","x":88,"y":-214.9},{"s":"0.05_0.05","x":92,"y":-215.4},{"s":"0.05_0.05","x":96,"y":-215.5},{"s":"0.05_0.05","x":101,"y":-215.9},
{"s":"0.1_0.1","x":1,"y":-213.5},{"s":"0.1_0.1","x":2,"y":-209.2},{"s":"0.1_0.1","x":3,"y":-208.9},{"s":"0.1_0.1","x":4,"y":-209.3},{"s":"0.1_0.1","x":5,"y":-209.6},{"s":"0.1_0.1","x":7,"y":-209.8},{"s":"0.1_0.1","x":10,"y":-209.5},{"s":"0.1_0.1","x":13,"y":-209.8},{"s":"0.1_0.1","x":16,"y":-209.5},{"s":"0.1_0.1","x":20,"y":-209.8},{"s":"0.1_0.1","x":24,"y":-209.7},{"s":"0.1_0.1","x":28,"y":-209.9},{"s":"0.1_0.1","x":32,"y":-210.0},{"s":"0.1_0.1","x":36,"y":-210.4},{"s":"0.1_0.1","x":40,"y":-210.5},{"s":"0.1_0.1","x":44,"y":-211.0},{"s":"0.1_0.1","x":48,"y":-211.1},{"s":"0.1_0.1","x":52,"y":-211.6},{"s":"0.1_0.1","x":56,"y":-211.7},{"s":"0.1_0.1","x":60,"y":-212.2},{"s":"0.1_0.1","x":64,"y":-212.3},{"s":"0.1_0.1","x":68,"y":-212.7},{"s":"0.1_0.1","x":72,"y":-212.8},{"s":"0.1_0.1","x":76,"y":-213.3},{"s":"0.1_0.1","x":80,"y":-213.4},{"s":"0.1_0.1","x":84,"y":-213.9},{"s":"0.1_0.1","x":88,"y":-214.0},{"s":"0.1_0.1","x":92,"y":-214.5},{"s":"0.1_0.1","x":96,"y":-214.6},{"s":"0.1_0.1","x":101,"y":-215.0},
{"s":"0.2_0.2","x":1,"y":-214.8},{"s":"0.2_0.2","x":2,"y":-212.0},{"s":"0.2_0.2","x":3,"y":-216.6},{"s":"0.2_0.2","x":4,"y":-210.5},{"s":"0.2_0.2","x":5,"y":-210.8},{"s":"0.2_0.2","x":7,"y":-210.6},{"s":"0.2_0.2","x":10,"y":-210.4},{"s":"0.2_0.2","x":13,"y":-210.7},{"s":"0.2_0.2","x":16,"y":-210.5},{"s":"0.2_0.2","x":20,"y":-210.8},{"s":"0.2_0.2","x":24,"y":-210.8},{"s":"0.2_0.2","x":28,"y":-211.2},{"s":"0.2_0.2","x":32,"y":-211.3},{"s":"0.2_0.2","x":36,"y":-211.9},{"s":"0.2_0.2","x":40,"y":-212.1},{"s":"0.2_0.2","x":44,"y":-212.7},{"s":"0.2_0.2","x":48,"y":-212.9},{"s":"0.2_0.2","x":52,"y":-213.4},{"s":"0.2_0.2","x":56,"y":-213.4},{"s":"0.2_0.2","x":60,"y":-213.9},{"s":"0.2_0.2","x":64,"y":-214.0},{"s":"0.2_0.2","x":68,"y":-214.6},{"s":"0.2_0.2","x":72,"y":-214.7},{"s":"0.2_0.2","x":76,"y":-215.3},{"s":"0.2_0.2","x":80,"y":-215.4},{"s":"0.2_0.2","x":84,"y":-216.0},{"s":"0.2_0.2","x":88,"y":-216.3},{"s":"0.2_0.2","x":92,"y":-216.9},{"s":"0.2_0.2","x":96,"y":-217.1},{"s":"0.2_0.2","x":101,"y":-217.7},
{"s":"0.3_0.3","x":1,"y":-217.0},{"s":"0.3_0.3","x":2,"y":-210.5},{"s":"0.3_0.3","x":3,"y":-217.0},{"s":"0.3_0.3","x":4,"y":-211.2},{"s":"0.3_0.3","x":5,"y":-211.8},{"s":"0.3_0.3","x":7,"y":-212.3},{"s":"0.3_0.3","x":10,"y":-211.9},{"s":"0.3_0.3","x":13,"y":-212.2},{"s":"0.3_0.3","x":16,"y":-211.9},{"s":"0.3_0.3","x":20,"y":-212.3},{"s":"0.3_0.3","x":24,"y":-212.2},{"s":"0.3_0.3","x":28,"y":-212.7},{"s":"0.3_0.3","x":32,"y":-213.0},{"s":"0.3_0.3","x":36,"y":-213.7},{"s":"0.3_0.3","x":40,"y":-214.1},{"s":"0.3_0.3","x":44,"y":-214.9},{"s":"0.3_0.3","x":48,"y":-215.2},{"s":"0.3_0.3","x":52,"y":-215.9},{"s":"0.3_0.3","x":56,"y":-216.2},{"s":"0.3_0.3","x":60,"y":-216.8},{"s":"0.3_0.3","x":64,"y":-217.0},{"s":"0.3_0.3","x":68,"y":-217.7},{"s":"0.3_0.3","x":72,"y":-218.0},{"s":"0.3_0.3","x":76,"y":-218.6},{"s":"0.3_0.3","x":80,"y":-218.7},{"s":"0.3_0.3","x":84,"y":-219.3},{"s":"0.3_0.3","x":88,"y":-219.6},{"s":"0.3_0.3","x":92,"y":-220.2},{"s":"0.3_0.3","x":96,"y":-220.4},{"s":"0.3_0.3","x":98,"y":-221.0},{"s":"0.3_0.3","x":101,"y":-222.3}
]
},
"resolve":{"legend":{"color":"independent"}},
"spacing":-3,
"vconcat":[
{"spacing":18,"resolve":{"legend":{"color":"independent"}},
"hconcat":[
{"width":1,"height":1,"data":{"values":[]},"mark":"point","view":{"stroke":null}},
{"width":488,"height":240,
"data":{"name":"M"},
"layer":[
{"mark":{"type":"line","strokeWidth":1.8,"clip":true},
"encoding":{
"x":{"field":"x","type":"quantitative","scale":{"domain":[0,101],"nice":false,"zero":false},"axis":{"orient":"bottom","values":[0,20,40,60,80,100],"tickSize":-5,"labelFont":"Liberation Serif","labelFontSize":20,"labelPadding":13.5,"title":"Iterations","titleFontSize":25,"titlePadding":5.5}},
"y":{"field":"y","type":"quantitative","scale":{"domain":[-200,-100],"nice":false,"zero":false},"axis":{"orient":"left","values":[-200,-180,-160,-140,-120,-100],"tickSize":-5,"labelFont":"Liberation Serif","labelFontSize":20,"labelPadding":12,"title":["Moving average of","average log probability"],"titleFontSize":25,"titleLineHeight":30,"titlePadding":5}},
"color":{"field":"s","type":"nominal","scale":{"domain":["0.0_0.0","0.05_0.05","0.2_0.2","0.03_0.03","0.1_0.1","0.3_0.3"],"range":["#0072BD","#EDB120","#77AC30","#D95319","#7E2F8E","#4DBEEE"]},
"legend":{"orient":"bottom-right","offset":8,"columns":2,"title":null,"fillColor":"white","strokeColor":"#262626","padding":3.5,"symbolType":"stroke","symbolSize":625,"symbolStrokeWidth":2,"labelFont":"Liberation Serif","labelFontSize":22,"labelColor":"black","labelOffset":3,"columnPadding":8,"rowPadding":-1,"labelLimit":300}}}},
{"data":{"values":[{"t":"MNIST"}]},"mark":{"type":"text","fontSize":24},
"encoding":{
"text":{"field":"t"},
"x":{"datum":45,"type":"quantitative","axis":{"orient":"top","values":[0,20,40,60,80,100],"tickSize":-5,"labels":false,"title":null}},
"y":{"datum":-104.6,"type":"quantitative","axis":{"orient":"right","values":[-200,-180,-160,-140,-120,-100],"tickSize":-5,"labels":false,"title":null}}}}
]}
]},
{"spacing":0,"resolve":{"legend":{"color":"independent"}},
"hconcat":[
{"width":1,"height":1,"data":{"values":[]},"mark":"point","view":{"stroke":null}},
{"width":176,"height":88,
"data":{"name":"K"},
"layer":[
{"mark":{"type":"line","strokeWidth":1,"clip":true},
"encoding":{
"x":{"field":"x","type":"quantitative","scale":{"domain":[0,101],"nice":false,"zero":false},"axis":{"orient":"bottom","values":[0,50,100],"tickSize":-3,"labelFont":"Liberation Serif","labelFontSize":13,"labelPadding":6,"title":null}},
"y":{"field":"y","type":"quantitative","scale":{"domain":[-230,-205.2],"nice":false,"zero":false},"axis":{"orient":"left","values":[-230,-220,-210],"tickSize":-3,"labelFont":"Liberation Serif","labelFontSize":13,"labelPadding":8,"title":null}},
"color":{"field":"s","type":"nominal","legend":null}}},
{"data":{"values":[{"t":"KMNIST"}]},"mark":{"type":"text","fontSize":15},
"encoding":{
"text":{"field":"t"},
"x":{"datum":44.9,"type":"quantitative","axis":{"orient":"top","values":[0,50,100],"tickSize":-3,"labels":false,"title":null}},
"y":{"datum":-222,"type":"quantitative","axis":{"orient":"right","values":[-230,-220,-210],"tickSize":-3,"labels":false,"title":null}}}}
]},
{"width":179,"height":88,
"data":{"name":"F"},
"layer":[
{"mark":{"type":"line","strokeWidth":1,"clip":true},
"encoding":{
"x":{"field":"x","type":"quantitative","scale":{"domain":[0,101],"nice":false,"zero":false},"axis":{"orient":"bottom","values":[0,50,100],"tickSize":-3,"labelFont":"Liberation Serif","labelFontSize":13.5,"labelPadding":5,"title":null}},
"y":{"field":"y","type":"quantitative","scale":{"domain":[-285.3,-270],"nice":false,"zero":false},"axis":{"orient":"left","values":[-285,-280,-275,-270],"tickSize":-3,"labelFont":"Liberation Serif","labelFontSize":13.5,"labelPadding":8,"title":null}},
"color":{"field":"s","type":"nominal","legend":null}}},
{"data":{"values":[{"t":"FMNIST"}]},"mark":{"type":"text","fontSize":15},
"encoding":{
"text":{"field":"t"},
"x":{"datum":44.8,"type":"quantitative","axis":{"orient":"top","values":[0,50,100],"tickSize":-3,"labels":false,"title":null}},
"y":{"datum":-280.5,"type":"quantitative","axis":{"orient":"right","values":[-285,-280,-275,-270],"tickSize":-3,"labels":false,"title":null}}}}
]},
{"width":183,"height":92,
"data":{"name":"E"},
"layer":[
{"mark":{"type":"line","strokeWidth":1,"clip":true},
"encoding":{
"x":{"field":"x","type":"quantitative","scale":{"domain":[0,101],"nice":false,"zero":false},"axis":{"orient":"bottom","values":[0,20,40,60,80,100],"tickSize":-3,"labelFont":"Liberation Serif","labelFontSize":12.5,"labelPadding":2,"title":null}},
"y":{"field":"y","type":"quantitative","scale":{"domain":[-225,-205],"nice":false,"zero":false},"axis":{"orient":"left","values":[-225,-220,-215,-210,-205],"tickSize":-3,"labelFont":"Liberation Serif","labelFontSize":12.5,"labelPadding":6.4,"title":null}},
"color":{"field":"s","type":"nominal","legend":null}}},
{"data":{"values":[{"t":"EMNIST"}]},"mark":{"type":"text","fontSize":13},
"encoding":{
"text":{"field":"t"},
"x":{"datum":45.6,"type":"quantitative","axis":{"orient":"top","values":[0,20,40,60,80,100],"tickSize":-3,"labels":false,"title":null}},
"y":{"datum":-220.6,"type":"quantitative","axis":{"orient":"right","values":[-225,-220,-215,-210,-205],"tickSize":-3,"labels":false,"title":null}}}}
]}
]}
]
}
